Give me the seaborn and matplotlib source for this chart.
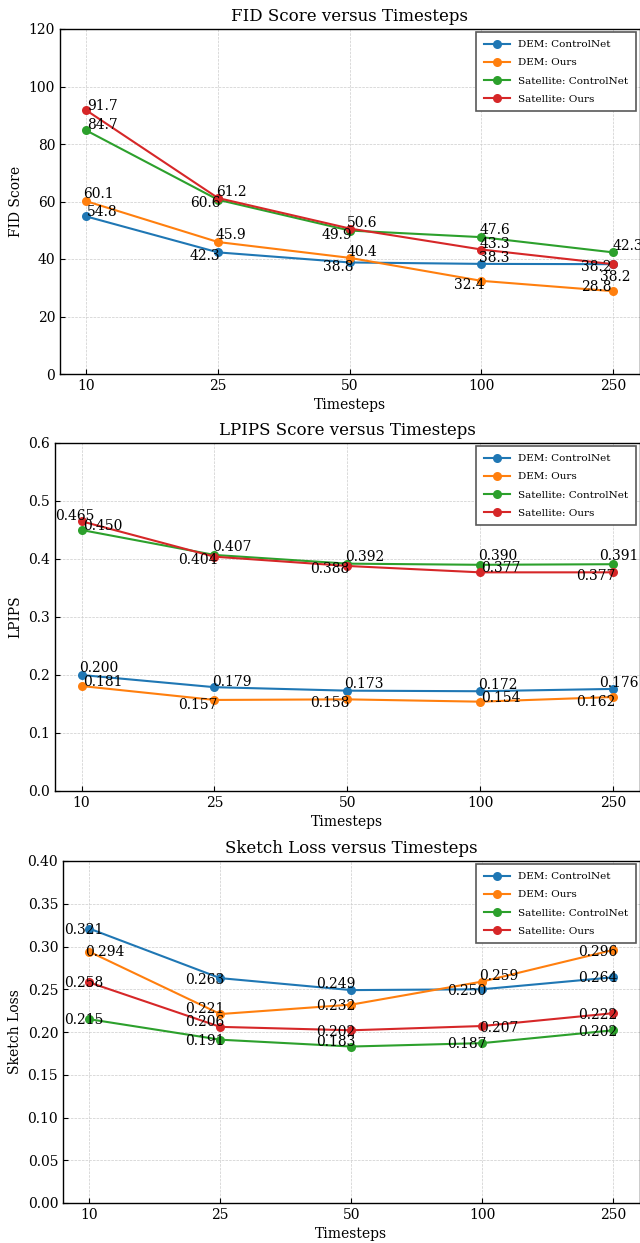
import pandas as pd
import seaborn as sns
import matplotlib.pyplot as plt
from matplotlib.ticker import FormatStrFormatter

# 数据
timesteps = ['10', '25', '50', '100', '250']
methods = ['DEM: ControlNet', 'DEM: Ours', 'Satellite: ControlNet', 'Satellite: Ours']

fid_dem_controlnet = [54.8, 42.3, 38.8, 38.3, 38.2]
fid_dem_ours = [60.1, 45.9, 40.4, 32.4, 28.8]
fid_sat_controlnet = [84.7, 60.6, 49.9, 47.6, 42.3]
fid_sat_ours = [91.7, 61.2, 50.6, 43.3, 38.2]

lpips_dem_controlnet = [0.200, 0.179, 0.173, 0.172, 0.176]
lpips_dem_ours = [0.181, 0.157, 0.158, 0.154, 0.162]
lpips_sat_controlnet = [0.450, 0.407, 0.392, 0.390, 0.391]
lpips_sat_ours = [0.465, 0.404, 0.388, 0.377, 0.377]

sketch_dem_controlnet = [0.321, 0.263, 0.249, 0.250, 0.264]
sketch_dem_ours = [0.294, 0.221, 0.232, 0.259, 0.296]
sketch_sat_controlnet = [0.215, 0.191, 0.183, 0.187, 0.202]
sketch_sat_ours = [0.258, 0.206, 0.202, 0.207, 0.222]

# 标注文字的偏移 (像素)
fid_offsets = [
    [(16, 4), (-13, -4), (-12, -5), (13, 5.5), (2.5, -13)],
    [(12, 7), (13, 7), (12.5, 5.5), (-12, -4), (-17, 4)],
    [(16, 5), (-13, -3), (-13, -4), (13, 7), (15, 6)],
    [(16, 4), (13, 6), (12.5, 6), (13, 6), (-17, -3)],
]
lpips_offsets = [
    [(17, 7), (17, 5.5), (17, 7), (18, 6.5), (6, 6)],
    [(21, 4), (-17, -5), (-17.5, -3.5), (21, 4), (-17, -5)],
    [(21, 4), (17, 8), (17, 7), (18, 8.5), (6, 8)],
    [(-7, 5), (-17, -3.5), (-17.5, -3), (21, 4), (-17, -4)],
]
sketch_offsets = [
    [(-5, -1.5), (-15, -2), (-15.5, 6), (-15.5, -1.7), (-15.5, -1)],
    [(16, -0.7), (-15, 5), (-15.5, -1.4), (16.5, 5.6), (-15.5, -1.7)],
    [(-5, -1), (-15, -1), (-15.5, 5), (-15.5, -1), (-15.5, -1.7)],
    [(-5, -1), (-15, 5), (-15.5, -1.7), (16.5, -2), (-15.5, -2)],
]


def long_table(series):
    rows = []
    for method, values in zip(methods, series):
        for t, v in zip(timesteps, values):
            rows.append({'Timesteps': t, 'Method': method, 'Value': v})
    return pd.DataFrame(rows)


plt.rcParams['font.family'] = ['DejaVu Serif']
plt.rcParams['xtick.direction'] = 'in'
plt.rcParams['ytick.direction'] = 'in'

fig = plt.figure(figsize=(6.4, 12.43), dpi=100)
W, H = 640, 1243
# 三个子图位置 (像素: left, top, bottom)
boxes = [(60, 29, 374), (55, 443, 791), (63, 861, 1203)]

panels = [
    ([fid_dem_controlnet, fid_dem_ours, fid_sat_controlnet, fid_sat_ours], fid_offsets,
     'FID Score versus Timesteps', 'FID Score', (0, 120), list(range(0, 121, 20)), '%d', '{:.1f}'),
    ([lpips_dem_controlnet, lpips_dem_ours, lpips_sat_controlnet, lpips_sat_ours], lpips_offsets,
     'LPIPS Score versus Timesteps', 'LPIPS', (0, 0.6), [0, 0.1, 0.2, 0.3, 0.4, 0.5, 0.6], '%.1f', '{:.3f}'),
    ([sketch_dem_controlnet, sketch_dem_ours, sketch_sat_controlnet, sketch_sat_ours], sketch_offsets,
     'Sketch Loss versus Timesteps', 'Sketch Loss', (0, 0.4),
     [0, 0.05, 0.1, 0.15, 0.2, 0.25, 0.3, 0.35, 0.4], '%.2f', '{:.3f}'),
]

for (left, top, bottom), (series, offsets, title, ylabel, ylim, yticks, yfmt, lfmt) in zip(boxes, panels):
    ax = fig.add_axes([left / W, (H - bottom) / H, (639.5 - left) / W, (bottom - top) / H])
    df = long_table(series)
    sns.lineplot(data=df, x='Timesteps', y='Value', hue='Method', palette='tab10',
                 marker='o', markersize=6.5, markeredgewidth=0, linewidth=1.5,
                 sort=False, ax=ax)

    # 数值标注
    for values, offs in zip(series, offsets):
        for i, (v, (dx, dy)) in enumerate(zip(values, offs)):
            ax.annotate(lfmt.format(v), xy=(i, v), xytext=(dx, dy), textcoords='offset pixels',
                        ha='center', va='center', fontsize=10, color='black')

    ax.set_xlim(-0.2, 4.2)
    ax.set_ylim(*ylim)
    ax.set_yticks(yticks)
    ax.yaxis.set_major_formatter(FormatStrFormatter(yfmt))
    ax.grid(True, linestyle='--', linewidth=0.5, color='#cccccc')
    ax.tick_params(labelsize=10, top=False, right=False)
    ax.set_title(title, fontsize=12)
    ax.set_xlabel('Timesteps', fontsize=10)
    ax.set_ylabel(ylabel, fontsize=10)
    for s in ax.spines.values():
        s.set_color('black')
        s.set_linewidth(1.0)

    sns.move_legend(ax, 'upper right', title=None, fontsize=7.5, fancybox=False,
                    edgecolor='0.35', framealpha=1, borderaxespad=0.3, borderpad=0.75,
                    labelspacing=0.85, handlelength=2.5)
    ax.get_legend().get_frame().set_linewidth(1.2)

plt.savefig('out.png', dpi=100)
